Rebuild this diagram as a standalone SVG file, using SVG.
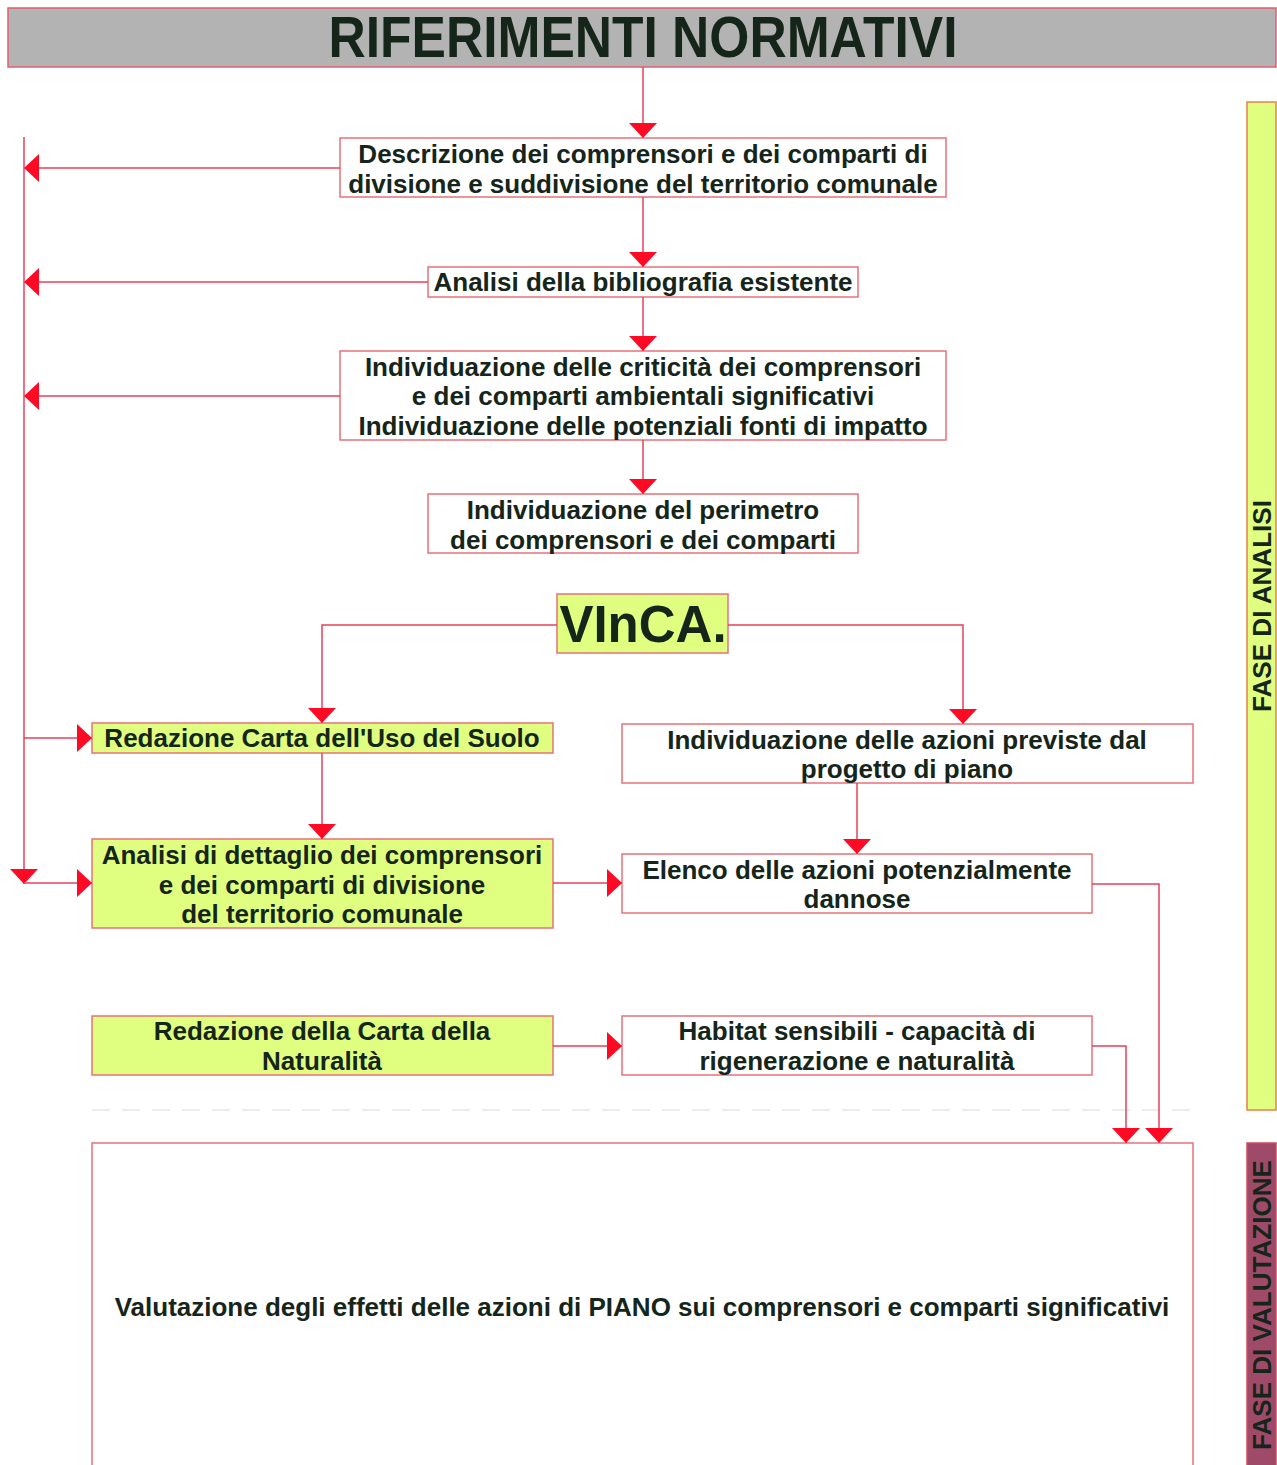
<svg xmlns="http://www.w3.org/2000/svg" width="1277" height="1465" viewBox="0 0 1277 1465">
<style>
.box{fill:#ffffff;stroke:#e8707a;stroke-width:1.5}
.yel{fill:#e0ff80;stroke:#e8707a;stroke-width:1.5}
.t{font-family:"Liberation Sans",Arial,sans-serif;font-weight:bold;font-size:26px;fill:#15251a;text-anchor:middle}
.c{fill:none;stroke:#e8405a;stroke-width:1.5}
</style>
<defs>
<marker id="ah" viewBox="0 0 15 28" refX="15" refY="14" markerWidth="15" markerHeight="28" markerUnits="userSpaceOnUse" orient="auto">
<path d="M0,0 L15,14 L0,28 Z" fill="#ff0a24"/>
</marker>
</defs>
<rect width="1277" height="1465" fill="#ffffff"/>

<g id="title">
<rect x="8" y="8" width="1268" height="59" fill="#b3b3b3" stroke="#e06070" stroke-width="1.5"/>
<text x="643" y="57" class="t" style="font-size:57px" textLength="629" lengthAdjust="spacingAndGlyphs">RIFERIMENTI NORMATIVI</text>
</g>

<g id="fase-analisi">
<rect x="1247" y="102" width="29" height="1008" fill="#e0ff80" stroke="#e8804a" stroke-width="1.5"/>
<text class="t" style="font-size:26px" transform="translate(1271,606) rotate(-90)" textLength="212" lengthAdjust="spacingAndGlyphs">FASE DI ANALISI</text>
</g>

<g id="fase-valutazione">
<rect x="1247" y="1143" width="29" height="330" fill="#a04a6a" stroke="#d04a5a" stroke-width="1.5"/>
<text class="t" style="font-size:26px" transform="translate(1271,1305) rotate(-90)" textLength="290" lengthAdjust="spacingAndGlyphs">FASE DI VALUTAZIONE</text>
</g>

<g id="n1">
<rect class="box" x="340" y="138" width="606" height="59"/>
<text class="t" x="643" y="163">Descrizione dei comprensori e dei comparti di</text>
<text class="t" x="643" y="193">divisione e suddivisione del territorio comunale</text>
</g>

<g id="n2">
<rect class="box" x="428" y="267" width="430" height="30"/>
<text class="t" x="643" y="291">Analisi della bibliografia esistente</text>
</g>

<g id="n3">
<rect class="box" x="340" y="351" width="606" height="89"/>
<text class="t" x="643" y="376">Individuazione delle criticità dei comprensori</text>
<text class="t" x="643" y="405">e dei comparti ambientali significativi</text>
<text class="t" x="643" y="435">Individuazione delle potenziali fonti di impatto</text>
</g>

<g id="n4">
<rect class="box" x="428" y="494" width="430" height="59"/>
<text class="t" x="643" y="519">Individuazione del perimetro</text>
<text class="t" x="643" y="549">dei comprensori e dei comparti</text>
</g>

<g id="vinca">
<rect class="yel" x="557" y="594" width="171" height="59"/>
<text class="t" x="643" y="642" style="font-size:51px">VInCA.</text>
</g>

<g id="n5">
<rect class="yel" x="92" y="723" width="461" height="30"/>
<text class="t" x="322" y="747">Redazione Carta dell'Uso del Suolo</text>
</g>

<g id="n6">
<rect class="box" x="622" y="724" width="571" height="59"/>
<text class="t" x="907" y="749">Individuazione delle azioni previste dal</text>
<text class="t" x="907" y="778">progetto di piano</text>
</g>

<g id="n7">
<rect class="yel" x="92" y="839" width="461" height="89"/>
<text class="t" x="322" y="864">Analisi di dettaglio dei comprensori</text>
<text class="t" x="322" y="894">e dei comparti di divisione</text>
<text class="t" x="322" y="923">del territorio comunale</text>
</g>

<g id="n8">
<rect class="box" x="622" y="854" width="470" height="59"/>
<text class="t" x="857" y="879">Elenco delle azioni potenzialmente</text>
<text class="t" x="857" y="908">dannose</text>
</g>

<g id="n9">
<rect class="yel" x="92" y="1016" width="461" height="59"/>
<text class="t" x="322" y="1040">Redazione della Carta della</text>
<text class="t" x="322" y="1070">Naturalità</text>
</g>

<g id="n10">
<rect class="box" x="622" y="1016" width="470" height="59"/>
<text class="t" x="857" y="1040">Habitat sensibili - capacità di</text>
<text class="t" x="857" y="1070">rigenerazione e naturalità</text>
</g>

<g id="n11">
<rect class="box" x="92" y="1143" width="1101" height="340"/>
<text class="t" x="642" y="1316">Valutazione degli effetti delle azioni di PIANO sui comprensori e comparti significativi</text>
</g>

<line x1="92" y1="1110" x2="1193" y2="1110" stroke="#e6e6e6" stroke-width="1.5" stroke-dasharray="18,12"/>

<g id="connectors">
<path class="c" d="M643,67 V138" marker-end="url(#ah)"/>
<path class="c" d="M643,197 V267" marker-end="url(#ah)"/>
<path class="c" d="M643,297 V351" marker-end="url(#ah)"/>
<path class="c" d="M643,440 V494" marker-end="url(#ah)"/>
<path class="c" d="M340,168 H24" marker-end="url(#ah)"/>
<path class="c" d="M428,282 H24" marker-end="url(#ah)"/>
<path class="c" d="M340,396 H24" marker-end="url(#ah)"/>
<path class="c" d="M24,137 V884" marker-end="url(#ah)"/>
<path class="c" d="M24,738 H92" marker-end="url(#ah)"/>
<path class="c" d="M24,883 H92" marker-end="url(#ah)"/>
<path class="c" d="M557,625 H322 V723" marker-end="url(#ah)"/>
<path class="c" d="M728,625 H963 V724" marker-end="url(#ah)"/>
<path class="c" d="M322,753 V839" marker-end="url(#ah)"/>
<path class="c" d="M857,783 V854" marker-end="url(#ah)"/>
<path class="c" d="M553,883 H622" marker-end="url(#ah)"/>
<path class="c" d="M553,1046 H622" marker-end="url(#ah)"/>
<path class="c" d="M1092,884 H1159 V1143" marker-end="url(#ah)"/>
<path class="c" d="M1092,1046 H1126 V1143" marker-end="url(#ah)"/>
</g>
</svg>
